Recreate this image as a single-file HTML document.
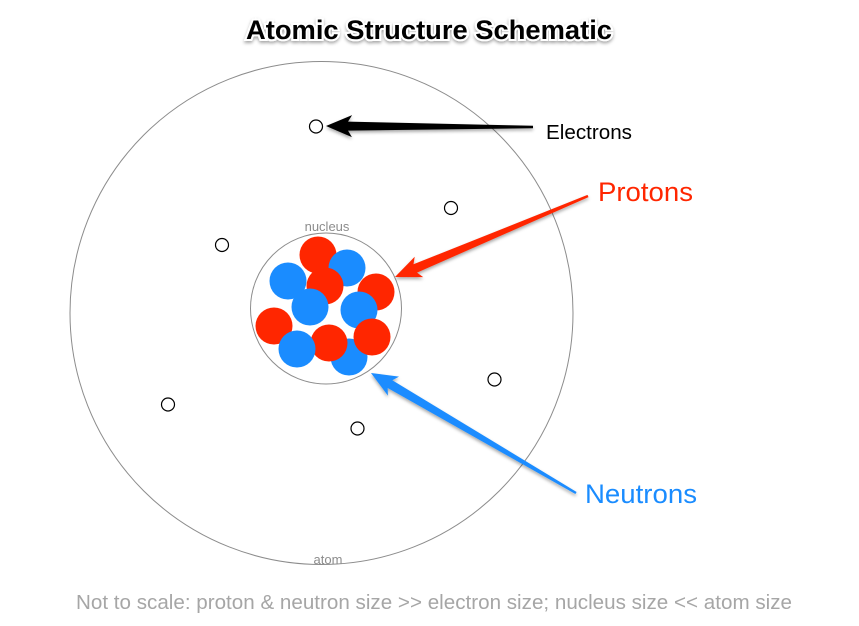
<!DOCTYPE html>
<html><head><meta charset="utf-8"><style>
html,body{margin:0;padding:0;background:#fff;width:859px;height:626px;overflow:hidden}
svg{display:block}
</style></head><body>
<svg id="s" width="859" height="626" viewBox="0 0 859 626" xmlns="http://www.w3.org/2000/svg" font-family="Liberation Sans, Arial, sans-serif">
<defs>
<filter id="sh" x="-10%" y="-30%" width="120%" height="160%">
<feDropShadow dx="0" dy="2" stdDeviation="1.5" flood-color="#000" flood-opacity="0.35"/>
</filter>
</defs>
<text x="246" y="39" textLength="366" lengthAdjust="spacingAndGlyphs" font-size="27" font-weight="bold" fill="#000" stroke="#fff" stroke-width="4" paint-order="stroke" filter="url(#sh)">Atomic Structure Schematic</text>
<circle cx="321.5" cy="313" r="251.5" fill="none" stroke="#8c8c8c" stroke-width="1"/>
<text x="328" y="564" text-anchor="middle" font-size="13" fill="#8c8c8c">atom</text>
<circle cx="326" cy="308.5" r="75.5" fill="none" stroke="#8c8c8c" stroke-width="1"/>
<text x="327" y="231" text-anchor="middle" font-size="13" fill="#8c8c8c">nucleus</text>
<g id="balls"></g>
<g fill="#fff" stroke="#000" stroke-width="1.2">
<circle cx="316" cy="126.5" r="6.5"/><circle cx="451" cy="208" r="6.5"/><circle cx="222" cy="245" r="6.5"/>
<circle cx="494.5" cy="379.5" r="6.5"/><circle cx="168" cy="404.5" r="6.5"/><circle cx="357.5" cy="428.5" r="6.5"/>
</g>
<g id="arrows"></g>
<text x="546" y="139" textLength="86" lengthAdjust="spacingAndGlyphs" font-size="20" fill="#000">Electrons</text>
<text x="598" y="201" textLength="95" lengthAdjust="spacingAndGlyphs" font-size="27" fill="#ff2600">Protons</text>
<text x="585" y="503" textLength="112" lengthAdjust="spacingAndGlyphs" font-size="27" fill="#1a8cff">Neutrons</text>
<text x="76" y="609" textLength="716" lengthAdjust="spacingAndGlyphs" font-size="20" fill="#a6a6a6">Not to scale: proton &amp; neutron size &gt;&gt; electron size; nucleus size &lt;&lt; atom size</text>
</svg>
<script>
var R="#ff2600",B="#1a8cff",NS="http://www.w3.org/2000/svg";
var balls=[[349,357,B],[318,255,R],[347,268,B],[325,286,R],[288,281,B],[376,292,R],[310,307,B],[359,310,B],[274,326,R],[372,337,R],[329,343,R],[297,349,B]];
var g=document.getElementById('balls');
balls.forEach(function(b){var c=document.createElementNS(NS,'circle');c.setAttribute('cx',b[0]);c.setAttribute('cy',b[1]);c.setAttribute('r',18.5);c.setAttribute('fill',b[2]);g.appendChild(c);});
function arrow(tx,ty,hx,hy,col,hl,hw,sw,tw){
 var dx=hx-tx,dy=hy-ty,L=Math.sqrt(dx*dx+dy*dy),ux=dx/L,uy=dy/L,nx=-uy,ny=ux;
 var bx=hx-ux*hl,by=hy-uy*hl;
 var p=[[tx+nx*tw,ty+ny*tw],[bx+nx*sw,by+ny*sw],[bx-ux*4+nx*hw,by-uy*4+ny*hw],[hx,hy],[bx-ux*4-nx*hw,by-uy*4-ny*hw],[bx-nx*sw,by-ny*sw],[tx-nx*tw,ty-ny*tw]];
 var pg=document.createElementNS(NS,'polygon');
 pg.setAttribute('points',p.map(function(q){return q[0].toFixed(1)+','+q[1].toFixed(1)}).join(' '));
 pg.setAttribute('fill',col);pg.setAttribute('filter','url(#sh)');
 document.getElementById('arrows').appendChild(pg);
}
arrow(533,127,326,126,'#000',22,11,4.5,1.2);
arrow(588,196,395,277,R,22,11,4.5,1.2);
arrow(576,493,371,373,B,22,11,4.5,1.2);
</script>
</body></html>
